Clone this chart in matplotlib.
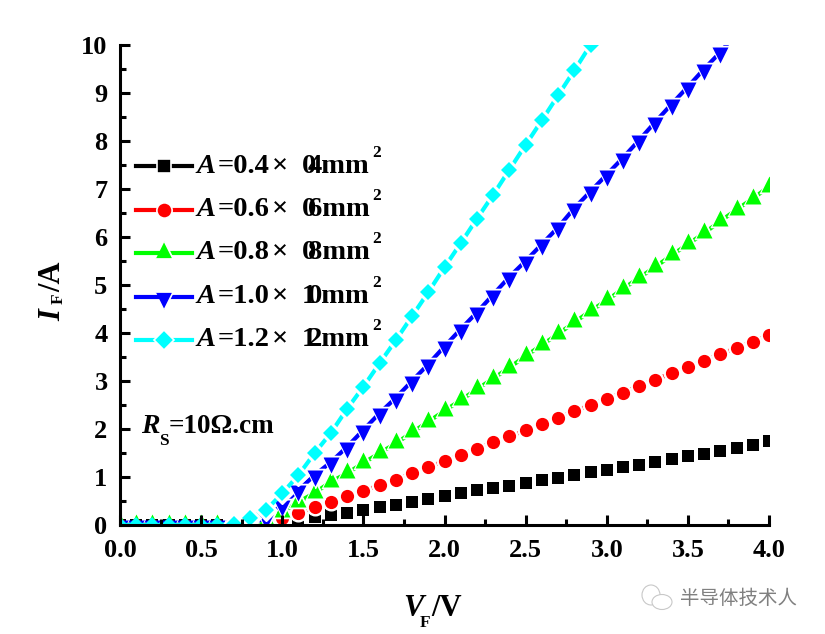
import matplotlib
matplotlib.use('Agg')
import matplotlib.pyplot as plt
from matplotlib.lines import Line2D
from matplotlib.patches import Ellipse
from matplotlib.ticker import MultipleLocator

plt.rcParams['font.family'] = ['Liberation Serif', 'DejaVu Serif']
plt.rcParams['font.weight'] = 'bold'

vf = [0.0, 0.1, 0.2, 0.3, 0.4, 0.5, 0.6, 0.7, 0.8, 0.9,
      1.0, 1.1, 1.2, 1.3, 1.4, 1.5, 1.6, 1.7, 1.8, 1.9,
      2.0, 2.1, 2.2, 2.3, 2.4, 2.5, 2.6, 2.7, 2.8, 2.9,
      3.0, 3.1, 3.2, 3.3, 3.4, 3.5, 3.6, 3.7, 3.8, 3.9, 4.0]

i_04 = [0, 0, 0, 0, 0, 0, 0, 0, 0, 0.01,
        0.06, 0.10, 0.16, 0.21, 0.25, 0.31, 0.37, 0.42, 0.48, 0.54,
        0.60, 0.66, 0.72, 0.77, 0.82, 0.88, 0.93, 0.98, 1.04, 1.10,
        1.15, 1.20, 1.26, 1.32, 1.37, 1.43, 1.48, 1.54, 1.60, 1.66, 1.74]
i_06 = [0, 0, 0, 0, 0, 0, 0, 0, 0, 0.04,
        0.15, 0.25, 0.37, 0.48, 0.60, 0.71, 0.83, 0.94, 1.08, 1.21,
        1.33, 1.46, 1.59, 1.72, 1.85, 1.97, 2.10, 2.23, 2.37, 2.50,
        2.63, 2.76, 2.90, 3.03, 3.16, 3.29, 3.42, 3.56, 3.69, 3.82, 3.95]
i_08 = [0, 0, 0, 0, 0, 0, 0, 0, 0, 0.10,
        0.27, 0.48, 0.67, 0.90, 1.08, 1.29, 1.50, 1.70, 1.93, 2.15,
        2.38, 2.60, 2.83, 3.05, 3.28, 3.52, 3.75, 3.98, 4.22, 4.46,
        4.68, 4.92, 5.15, 5.38, 5.62, 5.85, 6.08, 6.33, 6.57, 6.80, 7.05]
i_10 = [0, 0, 0, 0, 0, 0, 0, 0, 0.03, 0.15,
        0.42, 0.73, 1.04, 1.31, 1.63, 1.98, 2.33, 2.65, 3.00, 3.35,
        3.72, 4.08, 4.43, 4.80, 5.17, 5.50, 5.85, 6.20, 6.60, 6.95,
        7.30, 7.65, 8.02, 8.40, 8.77, 9.13, 9.50, 9.85, 10.25]
i_12 = [0, 0, 0, 0, 0, 0, 0, 0.03, 0.15, 0.31,
        0.66, 1.04, 1.50, 1.92, 2.42, 2.88, 3.37, 3.85, 4.35, 4.85,
        5.37, 5.87, 6.38, 6.88, 7.40, 7.92, 8.43, 8.95, 9.47, 10.0, 10.5]

series = [i_04, i_06, i_08, i_10, i_12]
colors = ['black', 'red', 'lime', 'blue', 'cyan']
# triangles centred on their centroid, the way Origin draws them
tri_up = [(-8, -5), (8, -5), (0, 11)]
tri_down = [(-8, 5), (8, 5), (0, -11)]
markers = ['s', 'o', tri_up, tri_down, 'D']
sizes = [8.4, 9.5, 15.8, 15.8, 8.3]
halos = [2.5, 2.5, 3.5, 3.5, 2.5]
area_a = ['0.4', '0.6', '0.8', '1.0', '1.2']
area_b = ['0', '0', '0', '1', '1']
area_c = ['4', '6', '8', '0', '2']

fig = plt.figure(figsize=(8.25, 6.34), dpi=100)
ax = fig.add_axes([120/825, 1-525/634, 649/825, 480/634])


def px_text(x, y, s, **kw):
    fig.text(x/825, 1-y/634, s, ha='left', va='baseline', **kw)


for k, y in enumerate(series):
    x = vf[:len(y)]
    on = [v for v, c in zip(x, y) if c > 0]
    up = [c for c in y if c > 0]
    z = 1 + k*0.1
    ax.plot(x, y, color=colors[k], lw=3, solid_capstyle='round', zorder=z)
    # white halo gives the line gap around each symbol, like Origin does
    ax.plot(on, up, ls='none', marker=markers[k], ms=sizes[k]+halos[k],
            mfc='white', mec='white', zorder=z)
    ax.plot(x, y, ls='none', marker=markers[k], ms=sizes[k],
            mfc=colors[k], mec=colors[k], mew=0, zorder=z)

ax.set_xlim(0, 4)
ax.set_ylim(0, 10)
ax.spines['top'].set_visible(False)
ax.spines['right'].set_visible(False)
for s in ['left', 'bottom']:
    ax.spines[s].set_linewidth(2.2)
    ax.spines[s].set_zorder(20)
ax.xaxis.set_major_locator(MultipleLocator(0.5))
ax.xaxis.set_minor_locator(MultipleLocator(0.25))
ax.yaxis.set_major_locator(MultipleLocator(1))
ax.yaxis.set_minor_locator(MultipleLocator(0.5))
ax.tick_params(which='major', direction='in', length=7.5, width=2.2, labelsize=19)
ax.tick_params(axis='x', which='major', pad=10)
ax.tick_params(axis='y', which='major', pad=9)
ax.tick_params(which='minor', direction='in', length=4, width=2.2)
ax.xaxis.set_major_formatter('{x:.1f}')
ax.set_axisbelow(False)

handles = [Line2D([], [], color=c, lw=3, marker=m, ms=s+1.5, mfc=c, mec='white', mew=1.2)
           for c, m, s in zip(colors, markers, sizes)]
ax.legend(handles, [''] * 5, loc='upper left', bbox_to_anchor=(16/649, (525-161)/480),
          frameon=False, numpoints=1, fontsize=10, borderpad=0, borderaxespad=0,
          handlelength=4.0, labelspacing=2.2, handletextpad=0)

row_y = [173, 216, 259, 303, 346]
for k, base in enumerate(row_y):
    px_text(196, base, 'A', fontsize=20.5, style='italic')
    px_text(218, base, '=' + area_a[k], fontsize=20.5)
    px_text(272, base, '×', fontsize=20.5)
    px_text(302, base, area_b[k], fontsize=20.5)
    px_text(308, base, area_c[k] + 'mm', fontsize=20.5)
    px_text(372, base-16, '2', fontsize=12.5)

px_text(141, 433, 'R', fontsize=20, style='italic')
px_text(159, 445, 'S', fontsize=12.5)
px_text(169, 433, '=10Ω.cm', fontsize=19.5)

px_text(403, 616, 'V', fontsize=22, style='italic')
px_text(420, 627, 'F', fontsize=12.5)
px_text(431, 616, '/V', fontsize=22)

fig.text(38/825, 1-321/634, 'I', fontsize=22, style='italic', rotation=90, ha='left', va='bottom')
fig.text(51/825, 1-304/634, 'F', fontsize=12.5, rotation=90, ha='left', va='bottom')
fig.text(38/825, 1-292/634, '/A', fontsize=22, rotation=90, ha='left', va='bottom')

# watermark
fig.text(680/825, 1-598/634, '半导体技术人', fontsize=14, color='#808080', va='center', ha='left',
         fontweight='normal', family=['Noto Sans CJK SC', 'DejaVu Sans'])
for cx, cy, w, h in [(651, 595, 18, 20), (662, 602, 20, 15)]:
    fig.add_artist(Ellipse((cx/825, 1-cy/634), w/825, h/634, transform=fig.transFigure,
                           fc='white', ec='#c8c8c8', lw=0.8))

fig.savefig('out.png', dpi=100)
